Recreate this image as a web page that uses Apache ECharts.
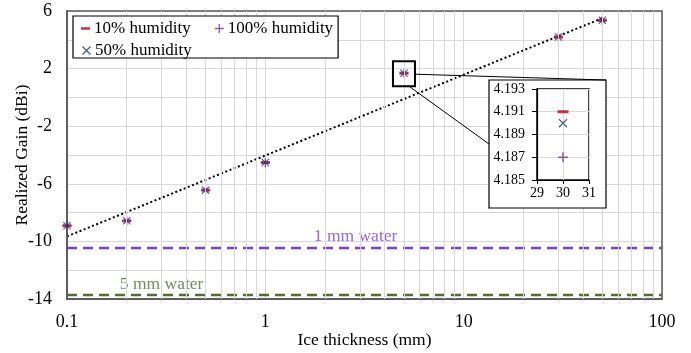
<!DOCTYPE html>
<html>
<head>
<meta charset="utf-8">
<script src="https://cdn.jsdelivr.net/npm/echarts@6/dist/echarts.min.js"></script>
<style>
  html, body { margin: 0; padding: 0; background: #fff; }
  #chart { width: 691px; height: 353px; }
</style>
</head>
<body>
<div id="chart"></div>
<script>
// Ice thickness (mm) of each simulated case
const thickness = [0.1, 0.2, 0.5, 1, 5, 30, 50];
// Realized gain (dBi) for each humidity level
const gain10 = [-8.91, -8.57, -6.44, -4.52, 1.68, 4.191, 5.35];
const gain50 = [-8.91, -8.57, -6.44, -4.52, 1.68, 4.190, 5.35];
const gain100 = [-8.92, -8.58, -6.45, -4.53, 1.67, 4.187, 5.34];
// Logarithmic trend line end points
const trendX = [0.1, 50];
const trendY = [-9.65, 5.50];
// Reference gain with a water film instead of ice
const waterGain = [-10.45, -13.72];
const waterNames = ['1 mm water', '5 mm water'];
const waterLabelX = [2.85, 0.30];
// Axis ticks
const yTicks = [-14, -10, -6, -2, 2, 6];
const insetYTicks = [4.185, 4.187, 4.189, 4.191, 4.193];
const insetXTicks = [29, 30, 31];
// The zoomed-in point shown in the inset and the highlighted point
const insetIndex = 5;
const boxIndex = 4;

const FONT = '"Liberation Serif", "Times New Roman", serif';
const RED = '#C00000', NAVY = '#1F3864', PURPLE = '#7030A0';
const WATER_COLORS = ['#7F3FBF', '#4F6F2F'];
const PLUS = 'path://M4.25,0h1.5v4.25h4.25v1.5h-4.25v4.25h-1.5v-4.25h-4.25v-1.5h4.25z';
const CROSS = 'path://M1,0L5,4L9,0L10,1L6,5L10,9L9,10L5,6L1,10L0,9L4,5L0,1Z';
const DASH = 'path://M0,3.5h10v3h-10z M0,0h0.01v0.01h-0.01z M9.99,9.99h0.01v0.01h-0.01z';

const minorX = [];
[0.1, 1, 10].forEach(d => { for (let k = 2; k <= 9; k++) minorX.push(+(d * k).toFixed(3)); });

const pairs = arr => thickness.map((t, i) => [t, arr[i]]);
const mainMarks = (name, arr, symbol, size, color) => ({
  name, type: 'scatter', xAxisIndex: 0, yAxisIndex: 0,
  data: pairs(arr), symbol, symbolSize: size,
  itemStyle: { color }, z: 3
});
const insetMarks = (name, arr, symbol, size, color) => ({
  name, type: 'scatter', xAxisIndex: 1, yAxisIndex: 1,
  data: [[thickness[insetIndex], arr[insetIndex]]], symbol, symbolSize: size,
  itemStyle: { color }, z: 8
});

const chart = echarts.init(document.getElementById('chart'));
const option = {
  animation: false,
  backgroundColor: '#fff',
  textStyle: { fontFamily: FONT },
  grid: [
    { left: 67, right: 29, top: 11, bottom: 54, show: true, borderColor: '#595959', borderWidth: 1.5, z: 3,
      containLabel: false, outerBoundsMode: 'none' },
    { left: 537, top: 89, width: 52, height: 91, show: true, borderColor: '#000', borderWidth: 1.5, backgroundColor: '#fff', z: 6,
      containLabel: false, outerBoundsMode: 'none' }
  ],
  xAxis: [
    {
      type: 'log', logBase: 10, min: 0.1, max: 100, gridIndex: 0,
      name: 'Ice thickness (mm)', nameLocation: 'middle', nameGap: 32, nameMoveOverlap: false,
      nameTextStyle: { fontFamily: FONT, fontSize: 17.5, color: '#000' },
      axisLine: { show: true, onZero: false, lineStyle: { color: '#404040', width: 1.5 } },
      axisTick: { show: false },
      axisLabel: { fontFamily: FONT, fontSize: 18, color: '#000', margin: 14, formatter: v => String(v) },
      splitLine: { show: true, lineStyle: { color: '#d9d9d9', width: 1 } }
    },
    {
      type: 'value', min: insetXTicks[0], max: insetXTicks[insetXTicks.length - 1], interval: 1, gridIndex: 1, z: 7,
      axisLine: { show: true, lineStyle: { color: '#000', width: 1.2 } },
      axisTick: { show: true, inside: false, length: 4, lineStyle: { color: '#000' } },
      axisLabel: { fontFamily: FONT, fontSize: 14, color: '#000', margin: 6 },
      splitLine: { show: true, lineStyle: { color: '#d9d9d9' } }
    }
  ],
  yAxis: [
    {
      type: 'value', min: yTicks[0], max: yTicks[yTicks.length - 1], interval: 2, gridIndex: 0,
      name: 'Realized Gain (dBi)', nameLocation: 'middle', nameGap: 36, nameMoveOverlap: false,
      nameTextStyle: { fontFamily: FONT, fontSize: 17.5, color: '#000' },
      axisLine: { show: true, onZero: false, lineStyle: { color: '#404040', width: 1.5 } },
      axisTick: { show: false },
      axisLabel: {
        fontFamily: FONT, fontSize: 18, color: '#000', margin: 15,
        formatter: v => (yTicks.indexOf(v) >= 0 ? String(v) : '')
      },
      splitLine: { show: true, lineStyle: { color: '#d9d9d9', width: 1 } }
    },
    {
      type: 'value', min: insetYTicks[0], max: insetYTicks[insetYTicks.length - 1], interval: 0.002, gridIndex: 1, z: 7,
      axisLine: { show: true, lineStyle: { color: '#000', width: 1.2 } },
      axisTick: { show: true, length: 5, lineStyle: { color: '#000' } },
      axisLabel: { fontFamily: FONT, fontSize: 14, color: '#000', margin: 12, formatter: v => v.toFixed(3) },
      splitLine: { show: true, lineStyle: { color: '#d9d9d9' } }
    }
  ],
  legend: [
    {
      data: [
        { name: '10% humidity', icon: DASH, itemStyle: { color: RED } },
        { name: '100% humidity', icon: PLUS, itemStyle: { color: PURPLE } }
      ],
      left: 73, top: 16, orient: 'horizontal',
      itemWidth: 9, itemHeight: 9, itemGap: 24,
      padding: [4, 5, 21, 8],
      backgroundColor: '#fff', borderColor: '#000', borderWidth: 1.2, borderRadius: 0,
      textStyle: { fontFamily: FONT, fontSize: 17, color: '#000', padding: [0, 0, 0, -1] },
      selectedMode: false, z: 10
    },
    {
      data: [{ name: '50% humidity', icon: CROSS, itemStyle: { color: NAVY } }],
      left: 82, top: 42, orient: 'horizontal',
      itemWidth: 9, itemHeight: 9, padding: 0,
      textStyle: { fontFamily: FONT, fontSize: 17, color: '#000', padding: [0, 0, 0, -1] },
      selectedMode: false, z: 11
    }
  ],
  series: [
    {
      // minor decade grid lines of the log axis
      type: 'line', xAxisIndex: 0, yAxisIndex: 0, data: [], silent: true, z: 1,
      markLine: {
        silent: true, symbol: 'none', animation: false,
        label: { show: false },
        lineStyle: { color: '#d9d9d9', width: 1, type: 'solid' },
        data: minorX.map(x => ({ xAxis: x }))
      }
    },
    ...waterGain.map((g, i) => ({
      name: waterNames[i], type: 'line', xAxisIndex: 0, yAxisIndex: 0,
      data: [[0.1, g], [100, g]], symbol: 'none', silent: true, z: 2,
      lineStyle: { color: WATER_COLORS[i], width: 2.5, type: [10, 6] }
    })),
    ...waterGain.map((g, i) => ({
      type: 'scatter', xAxisIndex: 0, yAxisIndex: 0, silent: true, z: 2,
      data: [[waterLabelX[i], g]], symbolSize: 0,
      label: {
        show: true, position: 'top', distance: 2, formatter: waterNames[i],
        fontFamily: FONT, fontSize: 17.5, color: WATER_COLORS[i]
      }
    })),
    {
      type: 'line', xAxisIndex: 0, yAxisIndex: 0, silent: true, z: 2,
      data: trendX.map((x, i) => [x, trendY[i]]), symbol: 'none',
      lineStyle: { color: '#000', width: 2, type: [2, 2.5] }
    },
    mainMarks('10% humidity', gain10, 'rect', [9, 3], RED),
    mainMarks('100% humidity', gain100, PLUS, 9, PURPLE),
    mainMarks('50% humidity', gain50, CROSS, 8, NAVY),
    insetMarks('10% humidity', gain10, 'rect', [11, 3], RED),
    insetMarks('100% humidity', gain100, PLUS, 10, PURPLE),
    insetMarks('50% humidity', gain50, CROSS, 9, NAVY)
  ]
};
chart.setOption(option);

// Inset frame, highlight box around the selected point and the connector lines
const p = chart.convertToPixel({ xAxisIndex: 0, yAxisIndex: 0 }, [thickness[boxIndex], gain10[boxIndex]]);
const bx = p[0] - 11, by = p[1] - 12, bw = 22, bh = 25;
const inset = { x: 489, y: 80, w: 117, h: 128 };
chart.setOption({
  graphic: [
    { type: 'rect', z: 5, shape: { x: inset.x, y: inset.y, width: inset.w, height: inset.h },
      style: { fill: '#fff', stroke: '#000', lineWidth: 1.2 } },
    { type: 'rect', z: 5, shape: { x: bx, y: by, width: bw, height: bh },
      style: { fill: null, stroke: '#000', lineWidth: 2 } },
    { type: 'line', z: 5, shape: { x1: bx + bw, y1: by + 13, x2: inset.x + inset.w, y2: inset.y },
      style: { stroke: '#000', lineWidth: 1 } },
    { type: 'line', z: 5, shape: { x1: bx + 16, y1: by + bh, x2: inset.x, y2: inset.y + 64 },
      style: { stroke: '#000', lineWidth: 1 } }
  ]
});
</script>
</body>
</html>
